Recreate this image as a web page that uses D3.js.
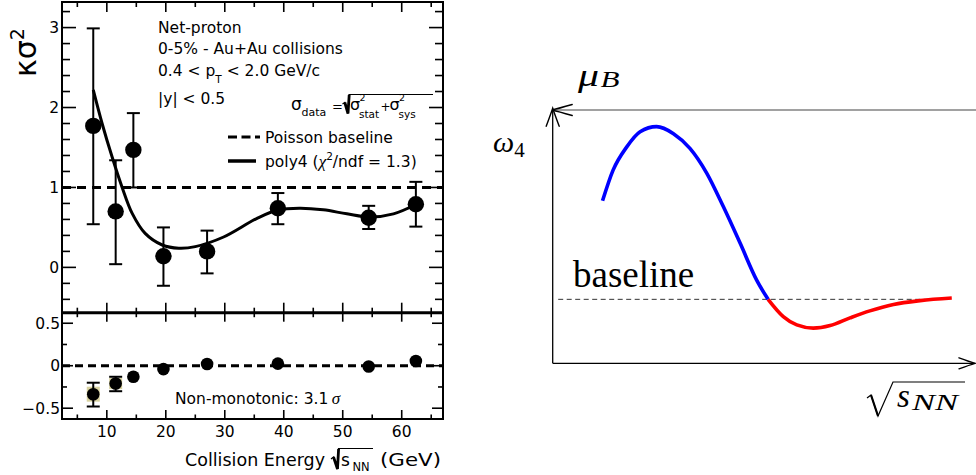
<!DOCTYPE html>
<html><head><meta charset="utf-8">
<script src="https://cdn.jsdelivr.net/npm/d3@7"></script>
<style>
html,body{margin:0;padding:0;background:#fff;}
svg{display:block;}
text{font-family:"DejaVu Sans",sans-serif;fill:#000;}
.serif{font-family:"Liberation Serif","DejaVu Serif",serif;}
</style></head>
<body>
<svg id="c" width="976" height="475"></svg>
<script>
// ---------------- data ----------------
const energies    = [7.7, 11.5, 14.5, 19.6, 27, 39, 54.4, 62.4];
const kappaSigma2 = [1.77, 0.70, 1.47, 0.14, 0.20, 0.74, 0.62, 0.79];
const errLow      = [0.54, 0.04, 1.00, -0.23, -0.075, 0.54, 0.48, 0.51];
const errHigh     = [2.99, 1.34, 1.93, 0.50, 0.46, 0.93, 0.77, 1.07];
const fitX = [7.7, 9.2, 10.9, 12.6, 14.3, 16.5, 19.4, 22.2, 25.0, 29.8, 35.4, 39.1, 42.8, 46.7, 50.7, 54.6, 58.6, 62.5];
const fitY = [2.22, 1.80, 1.38, 1.00, 0.675, 0.425, 0.28, 0.24, 0.26, 0.38, 0.61, 0.72, 0.74, 0.72, 0.67, 0.63, 0.67, 0.79];
const diffValues  = [-0.335, -0.21, -0.13, -0.04, 0.02, 0.025, -0.01, 0.055];
const diffErrLow  = [-0.48, -0.30];
const diffErrHigh = [-0.20, -0.13];
const diffSysHalf = [0.088, 0.065];
const upperTicks = [0, 1, 2, 3];
const lowerTickLabels = ["\u22120.5", "0", "0.5"];
const lowerTicks = [-0.5, 0, 0.5];
const xTicks = [10, 20, 30, 40, 50, 60];
// schematic (right panel), arbitrary units
const blueX = [1.18, 1.43, 1.75, 2.07, 2.46, 2.86, 3.25, 3.65, 4.04, 4.44, 4.83, 5.10];
const blueY = [2.54, 3.02, 3.38, 3.62, 3.70, 3.59, 3.36, 2.97, 2.45, 1.875, 1.30, 1.0];
const redX  = [5.10, 5.46, 5.78, 6.17, 6.57, 7.04, 7.51, 8.07, 8.70, 9.45];
const redY  = [1.0, 0.73, 0.60, 0.55, 0.59, 0.71, 0.82, 0.92, 0.98, 1.02];
const schemBaseline = 1;

// ---------------- scales ----------------
const svg = d3.select("#c");
const L = 62, R = 443, T = 2, MID = 312.7, B = 419;
const x = d3.scaleLinear().domain([2.4, 67]).range([L, R]);
const yU = d3.scaleLinear().domain([-0.567, 3.32]).range([MID, T]);
const yL = d3.scaleLinear().domain([-0.627, 0.624]).range([B, MID]);

// ---------------- ticks ----------------
const tk = svg.append("g").attr("stroke", "#000").attr("stroke-width", 1.6);
function seq(a, b, s) { const r = []; for (let v = a; v <= b + 1e-9; v += s) r.push(+v.toFixed(4)); return r; }
seq(5, 65, 5).forEach(v => {
  const major = Math.abs(v % 10) < 1e-6;
  const lenU = major ? 10 : 5, lenL = major ? 9 : 4.5;
  tk.append("line").attr("x1", x(v)).attr("x2", x(v)).attr("y1", T).attr("y2", T + lenU);
  tk.append("line").attr("x1", x(v)).attr("x2", x(v)).attr("y1", MID).attr("y2", MID - lenU);
  tk.append("line").attr("x1", x(v)).attr("x2", x(v)).attr("y1", MID).attr("y2", MID + lenL);
  tk.append("line").attr("x1", x(v)).attr("x2", x(v)).attr("y1", B).attr("y2", B - lenL);
});
seq(-0.4, 3.2, 0.2).forEach(v => {
  const major = Math.abs(v - Math.round(v)) < 1e-6;
  const len = major ? 14 : 8;
  tk.append("line").attr("x1", L).attr("x2", L + len).attr("y1", yU(v)).attr("y2", yU(v));
  tk.append("line").attr("x1", R).attr("x2", R - len).attr("y1", yU(v)).attr("y2", yU(v));
});
seq(-0.5, 0.5, 0.25).forEach(v => {
  const major = Math.abs(v * 2 - Math.round(v * 2)) < 1e-6;
  const len = major ? 11 : 5;
  tk.append("line").attr("x1", L).attr("x2", L + len).attr("y1", yL(v)).attr("y2", yL(v));
  tk.append("line").attr("x1", R).attr("x2", R - len).attr("y1", yL(v)).attr("y2", yL(v));
});

// frame
svg.append("rect").attr("x", L).attr("y", T).attr("width", R - L).attr("height", B - T)
  .attr("fill", "none").attr("stroke", "#000").attr("stroke-width", 2);
svg.append("line").attr("x1", L).attr("x2", R).attr("y1", MID).attr("y2", MID)
  .attr("stroke", "#000").attr("stroke-width", 3);

// tick labels
upperTicks.forEach(v => svg.append("text").attr("x", 59).attr("y", yU(v) + 5.5)
  .attr("text-anchor", "end").attr("font-size", 15.5).text(v));
lowerTicks.forEach((v, i) => svg.append("text").attr("x", 60).attr("y", yL(v) + 5.5)
  .attr("text-anchor", "end").attr("font-size", 15.5).text(lowerTickLabels[i]));
xTicks.forEach(v => svg.append("text").attr("x", x(v)).attr("y", 437)
  .attr("text-anchor", "middle").attr("font-size", 15.5).text(v));

// baselines
svg.append("line").attr("x1", L).attr("x2", R).attr("y1", yU(1)).attr("y2", yU(1))
  .attr("stroke", "#000").attr("stroke-width", 3).attr("stroke-dasharray", "9,6");
svg.append("line").attr("x1", L).attr("x2", R).attr("y1", yL(0)).attr("y2", yL(0))
  .attr("stroke", "#000").attr("stroke-width", 3).attr("stroke-dasharray", "8,5");

// poly4 fit curve
const fitLine = d3.line().x(d => x(d[0])).y(d => yU(d[1])).curve(d3.curveCatmullRom);
svg.append("path").datum(fitX.map((v, i) => [v, fitY[i]])).attr("d", fitLine)
  .attr("fill", "none").attr("stroke", "#000").attr("stroke-width", 3);

// error bars upper
const eb = svg.append("g").attr("stroke", "#000").attr("stroke-width", 2);
energies.forEach((e, i) => {
  eb.append("line").attr("x1", x(e)).attr("x2", x(e)).attr("y1", yU(errLow[i])).attr("y2", yU(errHigh[i]));
  [errLow[i], errHigh[i]].forEach(v => eb.append("line").attr("x1", x(e) - 6.5).attr("x2", x(e) + 6.5)
    .attr("y1", yU(v)).attr("y2", yU(v)));
});
svg.append("g").selectAll("circle").data(energies).join("circle")
  .attr("cx", d => x(d)).attr("cy", (d, i) => yU(kappaSigma2[i])).attr("r", 8.2).attr("fill", "#000");

// lower panel sys boxes, errors, points
diffSysHalf.forEach((h, i) => {
  svg.append("rect").attr("x", x(energies[i]) - 6.5).attr("width", 13)
    .attr("y", yL(diffValues[i] + h)).attr("height", yL(diffValues[i] - h) - yL(diffValues[i] + h))
    .attr("fill", "#d8d2a0");
});
diffErrLow.forEach((lo, i) => {
  const e = energies[i];
  eb.append("line").attr("x1", x(e)).attr("x2", x(e)).attr("y1", yL(lo)).attr("y2", yL(diffErrHigh[i]));
  [lo, diffErrHigh[i]].forEach(v => eb.append("line").attr("x1", x(e) - 6.5).attr("x2", x(e) + 6.5)
    .attr("y1", yL(v)).attr("y2", yL(v)));
});
eb.raise();
svg.append("g").selectAll("circle").data(energies).join("circle")
  .attr("cx", d => x(d)).attr("cy", (d, i) => yL(diffValues[i])).attr("r", 6.3).attr("fill", "#000");

// text block
const fs = 15.5;
svg.append("text").attr("x", 158).attr("y", 32.5).attr("font-size", fs).text("Net-proton");
svg.append("text").attr("x", 158).attr("y", 54).attr("font-size", fs).text("0-5% - Au+Au collisions");
const pt = svg.append("text").attr("x", 158).attr("y", 75.5).attr("font-size", fs);
pt.append("tspan").text("0.4 < p");
pt.append("tspan").attr("font-size", 10.5).attr("dy", 7).text("T");
pt.append("tspan").attr("dy", -7).text(" < 2.0 GeV/c");
svg.append("text").attr("x", 158).attr("y", 103.5).attr("font-size", fs).text("|y| < 0.5");

// sigma_data formula
function put(xp, yp, str, size, fam, style) {
  const t = svg.append("text").attr("x", xp).attr("y", yp).attr("font-size", size).text(str);
  if (fam) t.attr("font-family", fam);
  if (style) t.attr("font-style", style);
  return t;
}
put(291, 110, "\u03c3", 17, "Liberation Serif");
put(301.5, 116, "data", 11);
put(332, 110.5, "=", 13, "Liberation Sans");
svg.append("path").attr("d", "M342.5,104 L344.8,102.5 L348,113.5 L349,94.5 L433,94.5")
  .attr("fill", "none").attr("stroke", "#000").attr("stroke-width", 1.2);
svg.append("path").attr("d", "M344.8,102.5 L348,113.5 L349.2,95")
  .attr("fill", "none").attr("stroke", "#000").attr("stroke-width", 2.8);
put(350, 110, "\u03c3", 16, "Liberation Serif");
put(359.5, 100.5, "2", 9.5);
put(359, 118, "stat", 10.5);
put(380.5, 110.5, "+", 12, "Liberation Sans");
put(389.5, 110, "\u03c3", 16, "Liberation Serif");
put(399, 100.5, "2", 9.5);
put(398.5, 118, "sys", 10.5);

// legend
svg.append("line").attr("x1", 228).attr("x2", 260).attr("y1", 137).attr("y2", 137)
  .attr("stroke", "#000").attr("stroke-width", 3).attr("stroke-dasharray", "9,4.5");
svg.append("text").attr("x", 265).attr("y", 142.5).attr("font-size", fs).text("Poisson baseline");
svg.append("line").attr("x1", 228).attr("x2", 256).attr("y1", 161).attr("y2", 161)
  .attr("stroke", "#000").attr("stroke-width", 3.5);
const pl = svg.append("text").attr("x", 265).attr("y", 166.5).attr("font-size", fs);
pl.append("tspan").text("poly4 (");
pl.append("tspan").attr("font-family", "Liberation Serif").attr("font-style", "italic").attr("font-size", 17).text("\u03c7");
pl.append("tspan").attr("font-size", 10.5).attr("dy", -7).text("2");
pl.append("tspan").attr("dy", 7).text("/ndf = 1.3)");

// Non-monotonic
const nm = svg.append("text").attr("x", 175).attr("y", 404).attr("font-size", fs);
nm.append("tspan").text("Non-monotonic: 3.1");
nm.append("tspan").attr("font-family", "Liberation Serif").attr("font-style", "italic").attr("font-size", 17).text("\u2009\u03c3");

// y axis title
const yt = svg.append("text").attr("transform", "translate(36,77) rotate(-90)")
  .attr("font-family", "Liberation Serif").attr("font-size", 30);
yt.append("tspan").text("\u03ba\u03c3");
yt.append("tspan").attr("font-size", 19).attr("dy", -12).attr("font-family", "DejaVu Sans").text("2");

// x axis title (pieces)
put(185, 466, "Collision Energy", 17).attr("textLength", 140).attr("lengthAdjust", "spacingAndGlyphs");
svg.append("path").attr("d", "M331,459 L333.5,457 L337.5,469 L338.5,448.5 L373,448.5")
  .attr("fill", "none").attr("stroke", "#000").attr("stroke-width", 1.2);
svg.append("path").attr("d", "M333.5,457 L337.5,469 L338.6,449")
  .attr("fill", "none").attr("stroke", "#000").attr("stroke-width", 2.8);
put(341, 466, "s", 17);
put(352.5, 471, "NN", 11.5);
put(380, 466, "(GeV)", 17).attr("textLength", 61).attr("lengthAdjust", "spacingAndGlyphs");

// ---------------- right panel (schematic) ----------------
const sx = d3.scaleLinear().domain([0, 10]).range([552.7, 975]);
const sy = d3.scaleLinear().domain([0, 3.96]).range([363.3, 110]);
const rp = svg.append("g");
rp.append("line").attr("x1", sx(0)).attr("x2", 976).attr("y1", sy(3.96)).attr("y2", sy(3.96))
  .attr("stroke", "#444").attr("stroke-width", 1.1);
rp.append("line").attr("x1", sx(0)).attr("x2", sx(0)).attr("y1", sy(0)).attr("y2", sy(3.96) - 1.5)
  .attr("stroke", "#000").attr("stroke-width", 1.3);
rp.append("line").attr("x1", sx(0)).attr("x2", sx(10)).attr("y1", sy(0)).attr("y2", sy(0))
  .attr("stroke", "#000").attr("stroke-width", 1.3);
const ah = rp.append("g").attr("fill", "none").attr("stroke", "#000").attr("stroke-width", 1.4).attr("stroke-linecap", "round");
const ux = sx(0), uy = sy(3.96) - 1.7;
ah.append("path").attr("d", `M${ux - 6.5},${uy + 18} Q${ux - 2},${uy + 6} ${ux},${uy} Q${ux + 2},${uy + 6} ${ux + 6.5},${uy + 18}`);
const lx = sx(0) - 0.5, ly = sy(3.96);
ah.append("path").attr("d", `M${lx + 20},${ly - 5.5} Q${lx + 6},${ly - 1.5} ${lx},${ly} Q${lx + 6},${ly + 1.5} ${lx + 20},${ly + 5.5}`);
const rx = sx(10), ry = sy(0);
ah.append("path").attr("d", `M${rx - 16},${ry - 5.5} Q${rx - 5},${ry - 1.5} ${rx},${ry} Q${rx - 5},${ry + 1.5} ${rx - 16},${ry + 5.5}`);
rp.append("line").attr("x1", sx(0.13)).attr("x2", sx(9.3)).attr("y1", sy(schemBaseline)).attr("y2", sy(schemBaseline))
  .attr("stroke", "#333").attr("stroke-width", 1).attr("stroke-dasharray", "5,3.5");
const sline = d3.line().x(d => sx(d[0])).y(d => sy(d[1])).curve(d3.curveMonotoneX);
rp.append("path").datum(redX.map((v, i) => [v, redY[i]])).attr("d", sline)
  .attr("fill", "none").attr("stroke", "#ff0000").attr("stroke-width", 3.6);
rp.append("path").datum(blueX.map((v, i) => [v, blueY[i]])).attr("d", sline)
  .attr("fill", "none").attr("stroke", "#0000ff").attr("stroke-width", 3.6);
rp.append("text").attr("x", 573).attr("y", 287).attr("class", "serif").attr("font-size", 37).text("baseline");
rp.append("text").attr("x", 578).attr("y", 86).attr("class", "serif").attr("font-style", "italic").attr("font-size", 32)
  .attr("textLength", 21).attr("lengthAdjust", "spacingAndGlyphs").text("\u03bc");
rp.append("text").attr("x", 600.5).attr("y", 87).attr("class", "serif").attr("font-style", "italic").attr("font-size", 23)
  .attr("textLength", 19).attr("lengthAdjust", "spacingAndGlyphs").text("B");
const om = rp.append("text").attr("x", 493).attr("y", 152).attr("class", "serif").attr("font-style", "italic").attr("font-size", 30);
om.append("tspan").text("\u03c9");
om.append("tspan").attr("font-size", 21).attr("font-style", "normal").attr("dy", 5).text("4");
rp.append("path").attr("d", "M867,398 L871,395 L878,416 L893,382 L965,382")
  .attr("fill", "none").attr("stroke", "#000").attr("stroke-width", 1.2);
rp.append("path").attr("d", "M871,395 L878,416").attr("stroke", "#000").attr("stroke-width", 2.2);
rp.append("text").attr("x", 897).attr("y", 407).attr("class", "serif").attr("font-style", "italic").attr("font-size", 33).text("s");
rp.append("text").attr("x", 912).attr("y", 410).attr("class", "serif").attr("font-style", "italic").attr("font-size", 23)
  .attr("textLength", 46).attr("lengthAdjust", "spacingAndGlyphs").text("NN");
</script>
</body></html>
